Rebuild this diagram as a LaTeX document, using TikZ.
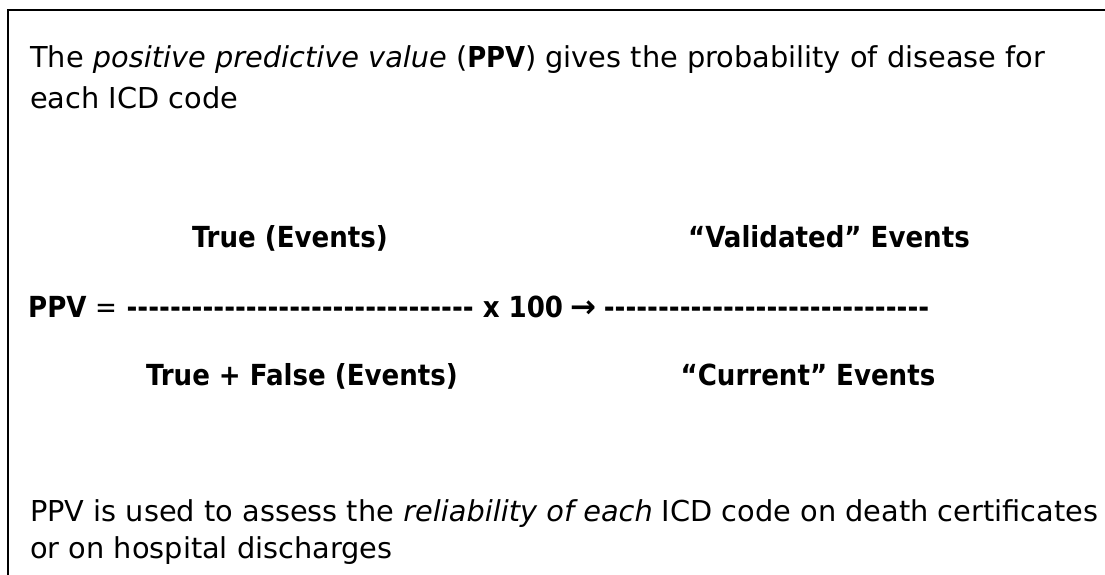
\documentclass[tikz,border=0pt]{standalone}
\usepackage{fontspec}
\setmainfont{DejaVu Sans}[BoldFont={DejaVu Sans Condensed Bold}]
\newfontfamily\arrowfont{DejaVu Sans Bold}
\newfontfamily\condreg{DejaVu Sans Condensed}
\newcommand\hyrun[1]{\foreach \i in {1,...,#1}{-\kern0pt}}
\begin{document}
\begin{tikzpicture}[x=1pt,y=-1pt,
  txt/.style={inner sep=0pt,font=\fontsize{28.8}{41}\selectfont},
  btxt/.style={inner sep=0pt,font=\fontsize{29}{41}\selectfont\bfseries},
  boxline/.style={line width=2pt,black}]
\useasboundingbox (0,0) rectangle (1105,574);
\coordinate (tl) at (8,10);
\coordinate (tr) at (1106,10);
\coordinate (bl) at (8,575);
\draw[boxline] (tr) -- (tl) -- (bl);
\node[txt,anchor=base west,align=left] (intro) at (30,108)
  {The \textit{positive predictive value} (\textbf{PPV}) gives the probability of disease for\\each ICD code};
\node[btxt,anchor=base] (num1) at (290,247) {True (Events)};
\node[btxt,anchor=base] (num2) at (829,247) {“Validated” Events};
\node[btxt,anchor=base west] (eq) at (28,317)
  {PPV {\mdseries\condreg =} \hyrun{32} x 100\kern-1pt\ {\arrowfont\fontsize{31}{41}\selectfont →}\kern-2pt\ \hyrun{30}};
\node[btxt,anchor=base] (den1) at (302,385) {True + False (Events)};
\node[btxt,anchor=base] (den2) at (808,385) {“Current” Events};
\node[txt,anchor=base west,align=left,font=\fontsize{28.8}{37}\selectfont] (note) at (30,558)
  {PPV is used to assess the \textit{reliability of each} ICD code on death certificates\\or on hospital discharges};
\end{tikzpicture}
\end{document}
